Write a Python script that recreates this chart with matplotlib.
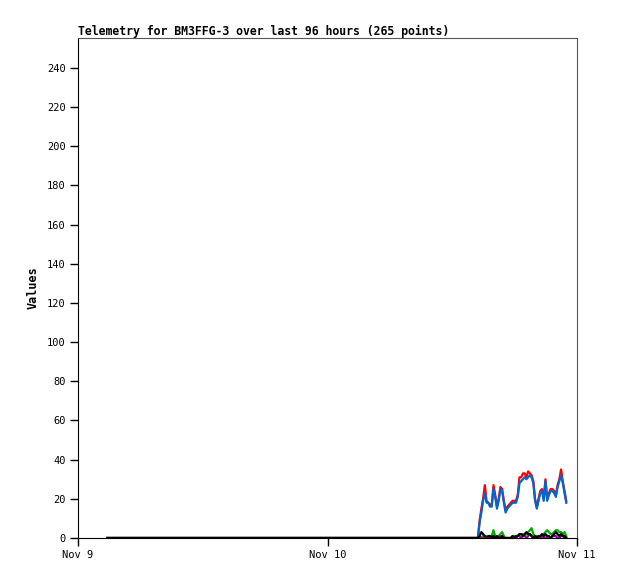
import numpy as np
import matplotlib
matplotlib.use("Agg")
import matplotlib.pyplot as plt
import matplotlib.dates as mdates

# first reading, then a run of 10-minute readings on Nov 10
first_time = np.datetime64("2024-11-09T02:50")
run_start = np.datetime64("2024-11-10T14:28")
blue = [0, 8, 13, 19, 23, 18, 18, 16, 16, 25, 21, 15, 19, 25, 24, 18, 13, 15, 16, 17,
        18, 18, 18, 21, 28, 29, 30, 31, 30, 31, 32, 31, 28, 19, 15, 19, 23, 24, 19, 29,
        19, 22, 24, 24, 23, 21, 26, 29, 32, 28, 23, 18]
red = [0, 9, 15, 20, 27, 19, 18, 17, 17, 27, 22, 16, 20, 26, 25, 19, 14, 16, 17, 18,
       19, 19, 19, 22, 31, 31, 33, 33, 31, 34, 33, 32, 29, 20, 16, 20, 24, 25, 20, 30,
       20, 23, 25, 25, 24, 22, 27, 30, 35, 29, 24, 19]
green = [0, 1, 0, 1, 0, 1, 0, 0, 1, 4, 1, 0, 1, 2, 3, 1, 0, 0, 0, 0,
         1, 1, 1, 1, 2, 2, 2, 1, 2, 3, 4, 5, 2, 1, 1, 1, 1, 1, 2, 3,
         4, 3, 2, 2, 3, 4, 4, 3, 3, 2, 3, 1]
black = [0, 1, 3, 2, 1, 0, 1, 1, 0, 1, 0, 1, 0, 0, 1, 0, 0, 0, 0, 0,
         1, 0, 1, 1, 2, 2, 1, 2, 3, 2, 2, 1, 0, 1, 0, 1, 1, 2, 1, 2,
         1, 1, 0, 1, 2, 3, 2, 1, 2, 1, 1, 0]
purple = [0, 0, 0, 0, 1, 0, 0, 0, 1, 0, 0, 0, 0, 1, 0, 0, 0, 0, 0, 0,
          0, 0, 0, 1, 1, 0, 1, 1, 0, 1, 2, 1, 0, 0, 0, 0, 0, 1, 0, 0,
          1, 0, 0, 1, 1, 1, 0, 0, 1, 1, 0, 0]
yticks = list(range(0, 241, 20))
xtick_labels = ["Nov 9", "Nov 10", "Nov 11"]

times = np.concatenate([[first_time],
                        run_start + np.arange(len(blue)) * np.timedelta64(10, "m")])
times = times.astype("datetime64[m]").astype(object)

fig = plt.figure(figsize=(6.18, 5.79), dpi=100)
ax = fig.add_axes([78/618, 1-538/579, (577-78)/618, (538-38)/579])

for vals, col in [(red, "#ff0000"), (blue, "#0066cc"), (green, "#00aa00"),
                  (purple, "#990099"), (black, "#000000")]:
    ax.plot(times, [0] + vals, color=col, lw=1.6)

ax.set_ylim(0, 255.3)
ax.set_xlim(np.datetime64("2024-11-09T00:00").astype(object),
            np.datetime64("2024-11-11T00:00").astype(object))
ax.set_yticks(yticks)
ax.set_xticks([np.datetime64(d).astype(object) for d in
               ["2024-11-09T00:00", "2024-11-10T00:00", "2024-11-11T00:00"]])
ax.set_xticklabels(xtick_labels)

ax.tick_params(direction="out", length=6, width=1, labelsize=7.5, pad=3)
ax.tick_params(axis="x", pad=3)
for lab in ax.get_xticklabels() + ax.get_yticklabels():
    lab.set_family("DejaVu Sans Mono")
for s in ["top", "right"]:
    ax.spines[s].set_color("#555555")

ax.set_title("Telemetry for BM3FFG-3 over last 96 hours (265 points)",
             family="DejaVu Sans Mono", fontweight="bold", fontsize=8.3,
             loc="left", pad=2)
ax.set_ylabel("Values", family="DejaVu Sans Mono", fontweight="bold", fontsize=8.5,
              labelpad=5)

fig.savefig("out.png", dpi=100)
